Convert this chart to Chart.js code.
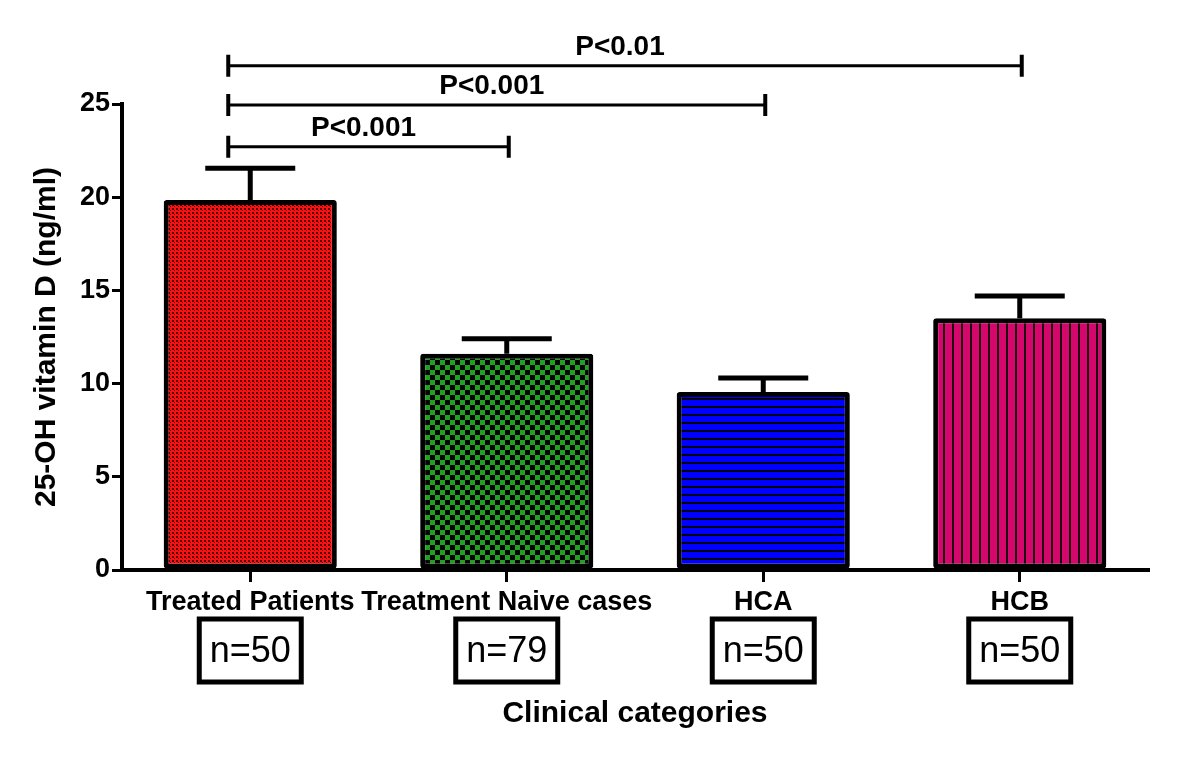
<!DOCTYPE html>
<html>
<head>
<meta charset="utf-8">
<script src="https://cdn.jsdelivr.net/npm/chart.js@4.4.0/dist/chart.umd.min.js"></script>
<style>
  body { margin: 0; background: #fff; }
  #wrap { width: 1200px; height: 760px; }
</style>
</head>
<body>
<div id="wrap"><canvas id="chartVitD"></canvas></div>
<script>
// Data
const categories = ['Treated Patients', 'Treatment Naive cases', 'HCA', 'HCB'];
const means = [19.85, 11.6, 9.55, 13.5];
const errors = [1.7, 0.8, 0.75, 1.2];
const sampleSizes = [50, 79, 50, 50];
const yTickValues = [0, 5, 10, 15, 20, 25];

// Significance brackets (category index from / to, height in ng/ml)
const compFrom = [0, 0, 0];
const compTo = [1, 2, 3];
const compHeight = [22.7, 24.95, 27.05];
const compLabels = ['P<0.001', 'P<0.001', 'P<0.01'];

const FONT = '"Liberation Sans", Arial, sans-serif';

const ctx = document.getElementById('chartVitD').getContext('2d');

// Fill patterns for each bar
function makePattern(w, h, draw) {
  const c = document.createElement('canvas');
  c.width = w;
  c.height = h;
  draw(c.getContext('2d'));
  return ctx.createPattern(c, 'repeat');
}

const redPattern = makePattern(4, 4, g => {
  g.fillStyle = '#ff1010';
  g.fillRect(0, 0, 4, 4);
  g.fillStyle = '#500000';
  g.fillRect(0, 0, 2, 2);
  g.fillRect(2, 2, 1, 1);
});
const greenPattern = makePattern(10, 10, g => {
  g.fillStyle = '#050505';
  g.fillRect(0, 0, 10, 10);
  g.fillStyle = '#22a022';
  g.fillRect(0, 0, 5, 5);
  g.fillRect(5, 5, 5, 5);
});
const bluePattern = makePattern(4, 8, g => {
  g.fillStyle = '#0000ff';
  g.fillRect(0, 0, 4, 6);
  g.fillStyle = '#000010';
  g.fillRect(0, 6, 4, 2);
});
const pinkPattern = makePattern(9, 4, g => {
  g.fillStyle = '#d3076c';
  g.fillRect(0, 0, 7, 4);
  g.fillStyle = '#200010';
  g.fillRect(7, 0, 2, 4);
});

// Error bars, brackets and n= boxes
const extrasPlugin = {
  id: 'extras',
  afterDatasetsDraw(chart) {
    const { ctx, scales: { x, y }, chartArea } = chart;
    ctx.save();
    ctx.strokeStyle = '#000';
    ctx.fillStyle = '#000';

    // error bars (upper only)
    means.forEach((m, i) => {
      const cx = x.getPixelForValue(i);
      const yTop = y.getPixelForValue(m);
      const yCap = y.getPixelForValue(m + errors[i]);
      ctx.lineWidth = 5;
      ctx.beginPath();
      ctx.moveTo(cx, yTop);
      ctx.lineTo(cx, yCap);
      ctx.stroke();
      ctx.beginPath();
      ctx.moveTo(cx - 45, yCap);
      ctx.lineTo(cx + 45, yCap);
      ctx.stroke();
    });

    // significance brackets
    compFrom.forEach((f, i) => {
      const x1 = x.getPixelForValue(f) - 22;
      const x2 = x.getPixelForValue(compTo[i]) + 2;
      const yy = y.getPixelForValue(compHeight[i]);
      ctx.lineWidth = 3;
      ctx.beginPath();
      ctx.moveTo(x1, yy);
      ctx.lineTo(x2, yy);
      ctx.stroke();
      ctx.lineWidth = 4;
      ctx.beginPath();
      ctx.moveTo(x1, yy - 11);
      ctx.lineTo(x1, yy + 11);
      ctx.moveTo(x2, yy - 11);
      ctx.lineTo(x2, yy + 11);
      ctx.stroke();
      ctx.font = 'bold 28px ' + FONT;
      ctx.textAlign = 'center';
      ctx.textBaseline = 'middle';
      ctx.fillText(compLabels[i], (x1 + x2) / 2 - 5, yy - 19);
    });

    // sample size boxes
    sampleSizes.forEach((n, i) => {
      const cx = x.getPixelForValue(i);
      const top = chartArea.bottom + 49;
      ctx.lineWidth = 5;
      ctx.strokeRect(cx - 51, top, 102, 63);
      ctx.font = '36px ' + FONT;
      ctx.textAlign = 'center';
      ctx.textBaseline = 'middle';
      ctx.fillText('n=' + n, cx, top + 33);
    });
    ctx.restore();
  }
};

const config = {
  type: 'bar',
  data: {
    labels: categories,
    datasets: [{
      data: means,
      backgroundColor: [redPattern, greenPattern, bluePattern, pinkPattern],
      borderColor: '#000',
      borderWidth: 5,
      borderSkipped: false,
      borderRadius: 3,
      barPercentage: 0.675,
      categoryPercentage: 1
    }]
  },
  options: {
    responsive: true,
    maintainAspectRatio: false,
    animation: false,
    layout: { padding: { left: 0, right: 52, top: 104, bottom: 0 } },
    plugins: {
      legend: { display: false },
      tooltip: { enabled: false }
    },
    scales: {
      x: {
        afterFit: s => { s.height = 190; },
        grid: { display: true, offset: false, drawOnChartArea: false, drawTicks: true, tickLength: 12, color: '#000', lineWidth: 3 },
        border: { display: true, color: '#000', width: 4 },
        ticks: {
          color: '#000',
          padding: 4,
          autoSkip: false,
          maxRotation: 0,
          font: { family: FONT, size: 27, weight: 'bold' }
        },
        title: {
          display: true,
          text: 'Clinical categories',
          color: '#000',
          font: { family: FONT, size: 30, weight: 'bold' },
          padding: { top: 0, bottom: 28 }
        }
      },
      y: {
        min: 0,
        max: 25,
        afterFit: s => { s.width = 122; },
        afterBuildTicks: s => { s.ticks = yTickValues.map(v => ({ value: v })); },
        grid: { drawOnChartArea: false, drawTicks: true, tickLength: 10, color: '#000', lineWidth: 3 },
        border: { display: true, color: '#000', width: 4 },
        ticks: {
          color: '#000',
          padding: 2,
          font: { family: FONT, size: 27, weight: 'bold' }
        },
        title: {
          display: true,
          text: '25-OH vitamin D (ng/ml)',
          color: '#000',
          font: { family: FONT, size: 30, weight: 'bold' },
          padding: { top: 29, bottom: 0 }
        }
      }
    }
  },
  plugins: [extrasPlugin]
};

const vitDChart = new Chart(ctx, config);
</script>
</body>
</html>
